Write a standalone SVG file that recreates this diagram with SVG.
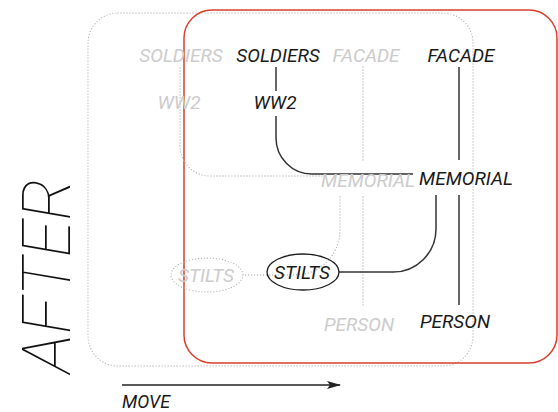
<svg xmlns="http://www.w3.org/2000/svg" width="558" height="412" viewBox="0 0 558 412">
  <defs>
    <marker id="arrow" viewBox="0 0 14 8" refX="13" refY="4" markerWidth="14" markerHeight="8" markerUnits="userSpaceOnUse" orient="auto">
      <path d="M0 0 L14 4 L0 8 L3 4 Z" fill="#222"/>
    </marker>
  </defs>
  <style>
    .lbl { font-family: Roboto, "Liberation Sans", sans-serif; font-style: italic; font-size: 19px; text-anchor: middle; }
    .now { fill: #1a1a1a; }
    .was { fill: #cccccc; }
    .dot { fill: none; stroke: #b4b4b4; stroke-width: 1.3; stroke-dasharray: 0 3; stroke-linecap: round; }
    .ln { fill: none; stroke: #333; stroke-width: 1.5; }
    .frame { fill: none; stroke: #d8402c; stroke-width: 1.5; }
  </style>
  <rect width="558" height="412" fill="#fff"/>

  <!-- frames: previous state (dotted) and current state (red) -->
  <g id="frames">
    <rect class="dot" x="88" y="13" width="385" height="353" rx="30"/>
    <rect class="frame" x="184" y="10" width="373" height="353" rx="28"/>
  </g>

  <!-- connectors -->
  <g id="connectors">
    <!-- previous state -->
    <path class="dot" d="M180 68 V146 A30 30 0 0 0 210 176 H322"/>
    <path class="dot" d="M363 67 V163"/>
    <path class="dot" d="M363 197 V308"/>
    <path class="dot" d="M340 197 V230 A45 45 0 0 1 295 275 H243"/>
    <!-- current state -->
    <path class="ln" d="M276 67 V91"/>
    <path class="ln" d="M276 116 V138 A36 36 0 0 0 312 174 H413"/>
    <path class="ln" d="M459 67 V160"/>
    <path class="ln" d="M459 195 V305"/>
    <path class="ln" d="M436 195 V229 A43 43 0 0 1 393 272 H339"/>
  </g>

  <!-- previous-state nodes -->
  <g id="was-soldiers"><text class="lbl was" x="181" y="62">SOLDIERS</text></g>
  <g id="was-ww2"><text class="lbl was" x="179" y="109">WW2</text></g>
  <g id="was-facade"><text class="lbl was" x="366" y="62">FACADE</text></g>
  <g id="was-memorial"><text class="lbl was" x="368" y="187">MEMORIAL</text></g>
  <g id="was-person"><text class="lbl was" x="359" y="331">PERSON</text></g>
  <g id="was-stilts">
    <ellipse class="dot" cx="207" cy="275" rx="36" ry="17"/>
    <text class="lbl was" x="206" y="282">STILTS</text>
  </g>

  <!-- current-state nodes -->
  <g id="soldiers"><text class="lbl now" x="278" y="62">SOLDIERS</text></g>
  <g id="ww2"><text class="lbl now" x="275" y="109">WW2</text></g>
  <g id="facade"><text class="lbl now" x="461" y="62">FACADE</text></g>
  <g id="memorial"><text class="lbl now" x="466" y="185">MEMORIAL</text></g>
  <g id="person"><text class="lbl now" x="455" y="328">PERSON</text></g>
  <g id="stilts">
    <ellipse cx="303" cy="272" rx="36" ry="18" fill="none" stroke="#1c1c1c" stroke-width="1.3"/>
    <text class="lbl now" x="302" y="279">STILTS</text>
  </g>

  <!-- title and axis -->
  <g id="title">
    <text transform="translate(70 373) rotate(-90)" font-family="Roboto, 'Liberation Sans', sans-serif" font-style="italic" font-weight="100" font-size="67" fill="#111">AFTER</text>
  </g>
  <g id="axis">
    <line x1="122" y1="385" x2="340" y2="385" stroke="#222" stroke-width="1.5" marker-end="url(#arrow)"/>
    <text x="122" y="408" font-family="Roboto, 'Liberation Sans', sans-serif" font-style="italic" font-size="18" fill="#1a1a1a">MOVE</text>
  </g>
</svg>
